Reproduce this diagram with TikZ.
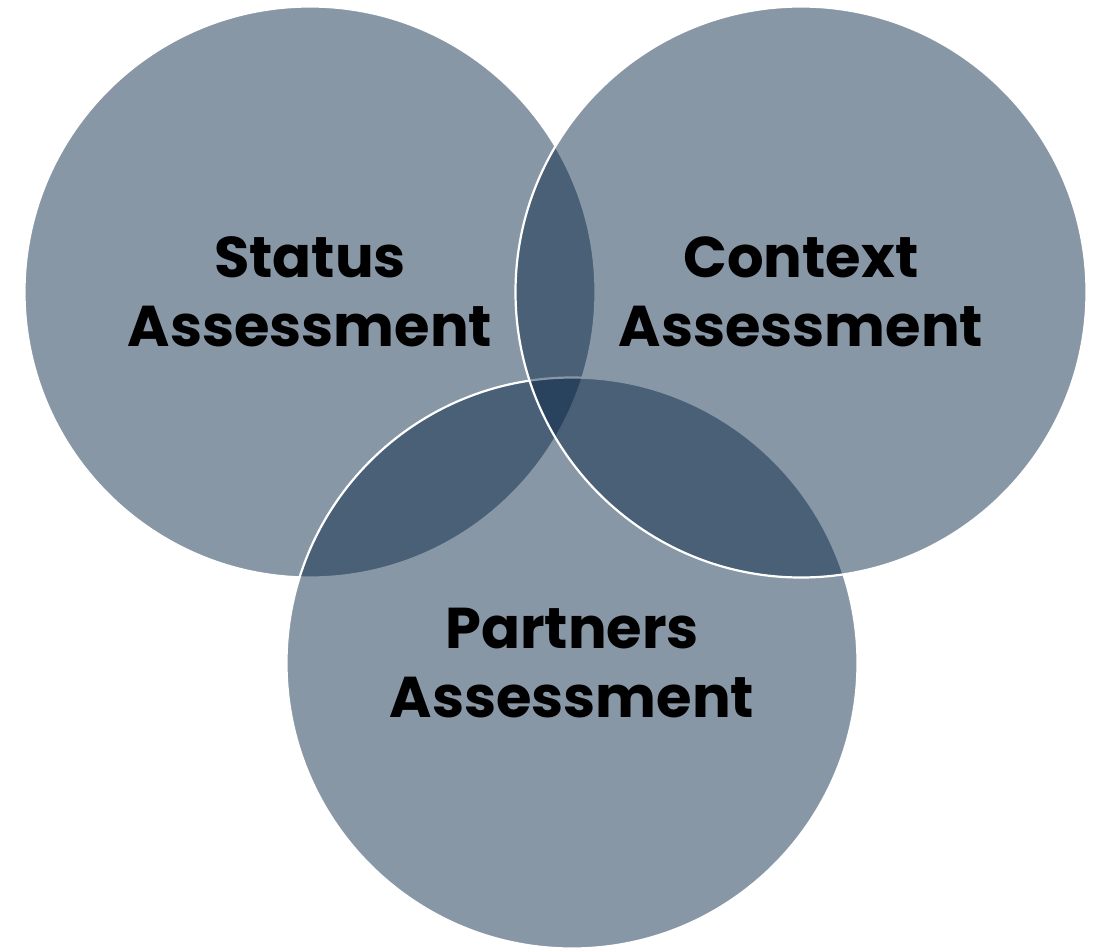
\documentclass[tikz,border=0pt]{standalone}
\usepackage{fontspec}
\setmainfont{Poppins}
\usepackage{tikz}
\usetikzlibrary{positioning}
\definecolor{vennblue}{RGB}{3,34,66}
\tikzset{
  venncircle/.style={circle, draw=white, line width=2.2pt, fill=vennblue,
    fill opacity=0.47, draw opacity=1, text opacity=1,
    minimum size=571pt, inner sep=0pt, align=center,
    font=\fontsize{57.5}{69}\selectfont\bfseries, text=black}
}
\begin{document}
\begin{tikzpicture}[x=1pt, y=-1pt]
\useasboundingbox (0,0) rectangle (1102,950);
\node[venncircle] (status) at (310,292) {Status\\Assessment};
\node[venncircle] (partners) at (572,663) {Partners\\Assessment};
\node[venncircle] (context) at (801,292) {Context\\Assessment};
\end{tikzpicture}
\end{document}
